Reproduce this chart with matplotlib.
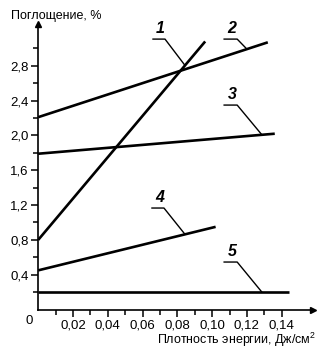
import numpy as np
import matplotlib
matplotlib.use("Agg")
import matplotlib.pyplot as plt
from matplotlib.ticker import FixedLocator

plt.rcParams['font.family'] = ['Liberation Sans', 'DejaVu Sans']
plt.rcParams['mathtext.fontset'] = 'custom'
plt.rcParams['mathtext.rm'] = 'Liberation Sans'
plt.rcParams['mathtext.it'] = 'Liberation Sans'

# endpoints of the five absorption lines (energy density, absorption %)
x1 = [0.0, 0.096]
y1 = [0.80, 3.08]
x2 = [0.0, 0.132]
y2 = [2.21, 3.07]
x3 = [0.0, 0.136]
y3 = [1.79, 2.02]
x4 = [0.0, 0.102]
y4 = [0.45, 0.95]
x5 = [0.0, 0.144]
y5 = [0.20, 0.20]

names = ['1', '2', '3', '4', '5']
yticks = [0.4, 0.8, 1.2, 1.6, 2.0, 2.4, 2.8]
xticks = [0.02, 0.04, 0.06, 0.08, 0.10, 0.12, 0.14]

fig = plt.figure(figsize=(3.23, 3.52), dpi=100)
ax = fig.add_axes([0.1183, 0.1207, 0.8508, 0.811])
ax.set_xlim(0, 0.158)
ax.set_ylim(0, 3.28)

lines = [(x1, y1), (x2, y2), (x3, y3), (x4, y4), (x5, y5)]
for xs, ys in lines:
    ax.plot(xs, ys, color='black', lw=1.9, solid_capstyle='butt')

# number + leader: (underline x0, x1, underline y, x where it meets the curve)
leaders = [
    (0.066, 0.0729, 3.107, 0.0844),
    (0.1069, 0.1144, 3.107, 0.120),
    (0.1069, 0.1144, 2.349, 0.1286),
    (0.0654, 0.0723, 1.166, 0.0844),
    (0.1069, 0.1144, 0.5455, 0.1286),
]
for (xs, ys), name, (u0, u1, uy, tx) in zip(lines, names, leaders):
    ty = np.interp(tx, xs, ys)
    ax.plot([u0, u1, tx], [uy, uy, ty], color='black', lw=1.0)
    ax.text((u0 + u1) / 2 + 0.0008, uy + 0.03, name, fontsize=11.5,
            style='italic', fontweight='bold', ha='center', va='bottom')

for s in ['top', 'right']:
    ax.spines[s].set_visible(False)
ax.spines['left'].set_linewidth(1.2)
ax.spines['bottom'].set_linewidth(1.2)

# arrow heads on the axes
ax.plot(1, 0, '>', color='black', ms=5, transform=ax.get_yaxis_transform(), clip_on=False)
ax.plot(0, 1, '^', color='black', ms=5, transform=ax.get_xaxis_transform(), clip_on=False)

ax.yaxis.set_major_locator(FixedLocator(yticks))
ax.yaxis.set_minor_locator(FixedLocator(np.arange(0.2, 3.1, 0.2)))
ax.xaxis.set_major_locator(FixedLocator(xticks))
ax.xaxis.set_minor_locator(FixedLocator(np.arange(0.01, 0.15, 0.01)))
ax.set_yticklabels([f'{v:.1f}'.replace('.', ',') for v in yticks])
ax.set_xticklabels([f'{v:.2f}'.replace('.', ',') for v in xticks])
ax.tick_params(which='major', length=5, width=1.1, labelsize=9.5, pad=2)
ax.tick_params(which='minor', length=3.5, width=1.1)

ax.text(-0.003, -0.06, '0', fontsize=9.5, ha='right', va='top')
fig.text(0.035, 0.955, 'Поглощение, %', fontsize=9, ha='left', va='center')
fig.text(0.978, 0.033, 'Плотность энергии, Дж/см$^2$', fontsize=9, ha='right', va='center')

fig.savefig('out.png', dpi=100)
